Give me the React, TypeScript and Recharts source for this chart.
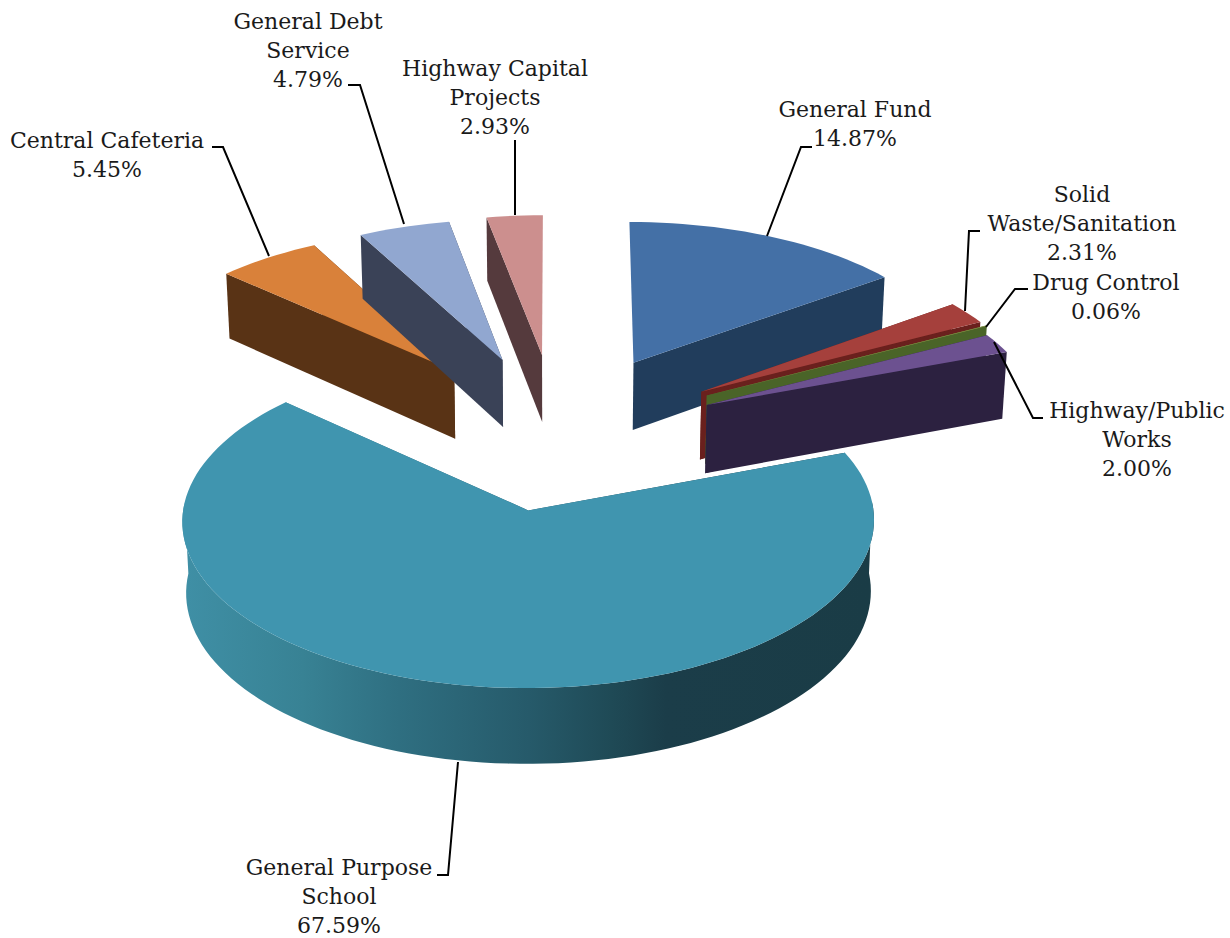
import { Pie, PieChart } from "recharts"

// slices in drawing order, the big one first so the others sit on top of it
const sliceNames = [
  "General Purpose School",
  "Central Cafeteria",
  "General Debt Service",
  "Highway Capital Projects",
  "General Fund",
  "Solid Waste/Sanitation",
  "Drug Control",
  "Highway/Public Works",
]
const sliceValues = [67.59, 5.45, 4.79, 2.93, 14.87, 2.31, 0.06, 2.0]

const labelLines = [
  ["General Purpose", "School"],
  ["Central Cafeteria"],
  ["General Debt", "Service"],
  ["Highway Capital", "Projects"],
  ["General Fund"],
  ["Solid", "Waste/Sanitation"],
  ["Drug Control"],
  ["Highway/Public", "Works"],
]

const topColors = ["#4095af", "#d9813a", "#91a7d0", "#cc8f8e", "#4470a6", "#a5403c", "#8c9a4a", "#6c5190"]
const wallColors = ["url(#schoolWall)", "#593315", "#3a4257", "#553a3d", "#213d5c", "#6a201d", "#4a6428", "#2c2140"]

// text anchor and first baseline for each label
const labelAnchors = [
  [339, 875],
  [107, 148],
  [308, 29],
  [495, 76],
  [855, 117],
  [1082, 202],
  [1106, 290],
  [1137, 418],
]
const leaderLines = [
  "437,875 448,875 458,762",
  "212,147 223,147 269,256",
  "348,85 360,85 404,224",
  "515,140 515,215",
  "812,147 801,147 767,236",
  "980,231 969,231 965,311",
  "1028,289 1015,289 986,327",
  "1043,418 1033,418 994,342",
]

// small per-slice corrections to the exploded position
const sliceShift = [
  [3, 0],
  [-4, 1],
  [-2, 1],
  [-1, 0],
  [2, 0],
  [4, 2],
  [3, 1],
  [-2, 6],
]

const wallStops = [
  [0, "#3f8fa5"],
  [0.17, "#388294"],
  [0.31, "#2f6f81"],
  [0.5, "#265a6a"],
  [0.62, "#1f4a56"],
  [0.7, "#1b3d49"],
  [1, "#1a3c46"],
]

// projection of the exploded disc
const TILT = 0.4687
const PERSPECTIVE = 0.06
const EXPLODE = 0.5
const DEPTH = 69
const SHRINK = 0.01
const ARC_STEP = 2

const tableData = sliceNames.map((name, i) => ({ name, value: sliceValues[i] }))
const firstAngle = 90 - (360 * (14.87 + 2.31 + 0.06 + 2.0)) / 100

type Pt = [number, number]

function slice3d(props: any) {
  const { cx, cy, outerRadius: r, startAngle, endAngle } = props
  const name = props.payload?.name ?? props.name
  const idx = sliceNames.indexOf(name)
  const [shiftX, shiftY] = sliceShift[idx]
  const rad = Math.PI / 180
  const mid = ((startAngle + endAngle) / 2) * rad
  const ax = EXPLODE * Math.cos(mid)
  const ay = -EXPLODE * Math.sin(mid)

  const project = (wx: number, wy: number, z: number): Pt => {
    const s = 1 / (1 - PERSPECTIVE * wy)
    return [
      cx + shiftX + r * wx * s * (1 - SHRINK * z),
      cy + shiftY + r * TILT * wy * s + DEPTH * s * z,
    ]
  }

  const angles: number[] = []
  const steps = Math.max(2, Math.ceil(Math.abs(startAngle - endAngle) / ARC_STEP))
  for (let i = 0; i <= steps; i++) angles.push(startAngle + ((endAngle - startAngle) * i) / steps)
  const rim = angles.map((a) => [ax + Math.cos(a * rad), ay - Math.sin(a * rad)])

  const toPath = (pts: Pt[]) => "M" + pts.map((p) => p.join(",")).join("L") + "Z"
  const wallPath = (pts: number[][]) =>
    toPath([
      ...pts.map((p) => project(p[0], p[1], 0)),
      ...[...pts].reverse().map((p) => project(p[0], p[1], 1)),
    ])

  const apex = [ax, ay]
  const fill = wallColors[idx]

  // radial walls that run almost straight up the page are edge-on, so skip them
  const radial = [rim[0], rim[rim.length - 1]]
    .filter((b) => {
      const [x0, y0] = project(apex[0], apex[1], 0)
      const [x1, y1] = project(b[0], b[1], 0)
      return Math.abs(x1 - x0) / Math.hypot(x1 - x0, y1 - y0) > 0.1
    })
    .sort((p, q) => p[1] - q[1])

  // the outer wall only shows along the near half of the rim
  const nearRim = rim.filter((_, i) => Math.sin(angles[i] * rad) < 0.05)

  return (
    <g>
      {radial.map((b, i) => (
        <path key={i} d={wallPath([apex, b])} fill={fill} />
      ))}
      {nearRim.length > 1 && <path d={wallPath(nearRim)} fill={fill} />}
      <path d={toPath([project(ax, ay, 0), ...rim.map((p) => project(p[0], p[1], 0))])} fill={topColors[idx]} />
    </g>
  )
}

function sliceLabel(props: any) {
  const idx = sliceNames.indexOf(props.name)
  const [x, y] = labelAnchors[idx]
  const rows = [...labelLines[idx], `${props.value.toFixed(2)}%`]
  return (
    <g>
      <polyline points={leaderLines[idx]} fill="none" stroke="#000" strokeWidth={2} />
      <text
        x={x}
        y={y}
        textAnchor="middle"
        fontFamily="'DejaVu Serif'"
        fontSize={22}
        fill="#1a1a1a"
        stroke="none"
      >
        {rows.map((row, i) => (
          <tspan key={i} x={x} y={y + i * 29}>
            {row}
          </tspan>
        ))}
      </text>
    </g>
  )
}

export default function App() {
  return (
    <div style={{ position: "absolute", left: 0, top: 0, width: 1230, height: 938, background: "#fff" }}>
      <PieChart width={1230} height={938} margin={{ top: 0, right: 0, bottom: 0, left: 0 }}>
        <defs>
          <linearGradient id="schoolWall" gradientUnits="userSpaceOnUse" x1={186} y1={0} x2={872} y2={0}>
            {wallStops.map(([offset, color]) => (
              <stop key={offset} offset={offset} stopColor={color as string} />
            ))}
          </linearGradient>
        </defs>
        <Pie
          data={tableData}
          dataKey="value"
          nameKey="name"
          cx={558}
          cy={431}
          outerRadius={335}
          startAngle={firstAngle}
          endAngle={firstAngle - 360}
          stroke="none"
          shape={slice3d}
          label={sliceLabel}
          labelLine={false}
          isAnimationActive={false}
        />
      </PieChart>
    </div>
  )
}
